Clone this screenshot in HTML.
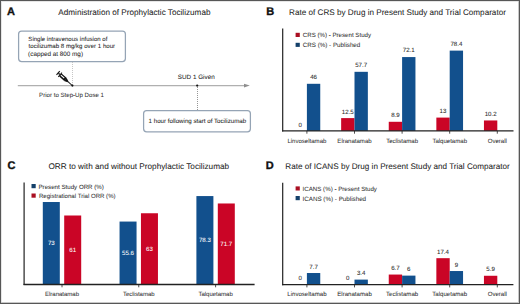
<!DOCTYPE html>
<html><head><meta charset="utf-8"><style>
html,body{margin:0;padding:0;background:#fff;overflow:hidden;}
#fig{position:relative;width:520px;height:304px;overflow:hidden;background:#fff;}
#fig svg{position:absolute;left:0;top:0;}
#frame{position:absolute;left:0;top:0;width:518px;height:302px;border:1px solid #575757;box-shadow:inset -1px -1px 0 #c8c8c8, inset 1px 1px 0 #e6e6e6;}
text{font-family:"Liberation Sans", sans-serif;text-rendering:geometricPrecision;}
text.n{stroke:currentColor;stroke-width:0.05px;}
</style></head><body>
<div id="fig">
<svg width="520" height="304" viewBox="0 0 520 304">
<text x="6.93" y="15.00" font-size="11.000" fill="#111" color="#111" text-anchor="start" font-weight="bold" stroke="#111" stroke-width="0.35">A</text>
<text x="266.14" y="15.00" font-size="11.000" fill="#111" color="#111" text-anchor="start" font-weight="bold" stroke="#111" stroke-width="0.35">B</text>
<text x="7.56" y="168.60" font-size="11.000" fill="#111" color="#111" text-anchor="start" font-weight="bold" stroke="#111" stroke-width="0.35">C</text>
<text x="265.69" y="168.70" font-size="11.000" fill="#111" color="#111" text-anchor="start" font-weight="bold" stroke="#111" stroke-width="0.35">D</text>
<text class="n" x="58.30" y="15.00" font-size="8.171" fill="#262626" color="#262626" text-anchor="start" font-weight="normal">Administration of Prophylactic Tocilizumab</text>
<text class="n" x="289.10" y="14.90" font-size="8.147" fill="#262626" color="#262626" text-anchor="start" font-weight="normal">Rate of CRS by Drug in Present Study and Trial Comparator</text>
<text class="n" x="48.42" y="169.00" font-size="8.236" fill="#262626" color="#262626" text-anchor="start" font-weight="normal">ORR to with and without Prophylactic Tocilizumab</text>
<text class="n" x="285.35" y="169.00" font-size="8.140" fill="#262626" color="#262626" text-anchor="start" font-weight="normal">Rate of ICANS by Drug in Present Study and Trial Comparator</text>
<text class="n" x="28.36" y="40.65" font-size="6.065" fill="#262626" color="#262626" text-anchor="start" font-weight="normal">Single intravenous infusion of</text>
<text class="n" x="28.54" y="48.15" font-size="6.127" fill="#262626" color="#262626" text-anchor="start" font-weight="normal">tocilizumab 8 mg/kg over 1 hour</text>
<text class="n" x="28.12" y="55.90" font-size="6.333" fill="#262626" color="#262626" text-anchor="start" font-weight="normal">(capped at 800 mg)</text>
<text class="n" x="148.57" y="123.20" font-size="6.181" fill="#262626" color="#262626" text-anchor="start" font-weight="normal">1 hour following start of Tocilizumab</text>
<text class="n" x="39.11" y="96.80" font-size="6.116" fill="#333" color="#333" text-anchor="start" font-weight="normal">Prior to Step-Up Dose 1</text>
<text class="n" x="177.85" y="79.20" font-size="6.325" fill="#262626" color="#262626" text-anchor="start" font-weight="normal">SUD 1 Given</text>
<text class="n" x="302.79" y="37.30" font-size="6.159" fill="#333" color="#333" text-anchor="start" font-weight="normal">CRS (%) - Present Study</text>
<text class="n" x="302.79" y="47.30" font-size="6.240" fill="#333" color="#333" text-anchor="start" font-weight="normal">CRS (%) - Published</text>
<text class="n" x="38.51" y="188.70" font-size="6.178" fill="#333" color="#333" text-anchor="start" font-weight="normal">Present Study ORR (%)</text>
<text class="n" x="38.91" y="198.10" font-size="6.096" fill="#333" color="#333" text-anchor="start" font-weight="normal">Registrational Trial ORR (%)</text>
<text class="n" x="302.54" y="190.85" font-size="6.183" fill="#333" color="#333" text-anchor="start" font-weight="normal">ICANS (%) - Present Study</text>
<text class="n" x="302.54" y="200.60" font-size="6.265" fill="#333" color="#333" text-anchor="start" font-weight="normal">ICANS (%) - Published</text>
<rect x="18.6" y="31.1" width="106.8" height="30.4" rx="3" fill="none" stroke="#95a4b5" stroke-width="1.25"/>
<rect x="143.6" y="110.6" width="106.8" height="21.2" rx="3" fill="none" stroke="#95a4b5" stroke-width="1.25"/>
<line x1="17.80" y1="85.60" x2="245.00" y2="85.60" stroke="#b0b0b0" stroke-width="1.3"/>
<path d="M244 83.7 L249.8 85.6 L244 87.5 Z" fill="#8e8e8e"/>
<line x1="72.50" y1="62.00" x2="72.50" y2="85.00" stroke="#b8b8b8" stroke-width="0.8" stroke-dasharray="1 1"/>
<line x1="197.50" y1="87.00" x2="197.50" y2="110.00" stroke="#8a8a8a" stroke-width="0.9" stroke-dasharray="1 1"/>
<circle cx="72.4" cy="85.6" r="1.1" fill="#111"/>
<circle cx="197.2" cy="85.6" r="1.1" fill="#111"/>
<g transform="translate(72.2 85.5) rotate(221.6) scale(0.95 1.15)" fill="#111"><line x1="0" y1="0" x2="6.4" y2="0" stroke="#111" stroke-width="0.85"/><path d="M6 -0.6 L9.6 -1.7 L9.6 1.7 L6 0.6 Z"/><rect x="9.4" y="-1.7" width="7.4" height="3.4" rx="0.4"/><rect x="11.4" y="-0.3" width="4.8" height="0.95" fill="#fff"/><rect x="16.6" y="-2.5" width="0.9" height="5"/><rect x="17.4" y="-0.55" width="2" height="1.1"/><rect x="19.2" y="-2.1" width="1.2" height="4.2"/></g>
<rect x="306.90" y="83.80" width="13.35" height="47.10" fill="#12508d"/>
<rect x="341.15" y="118.10" width="13.35" height="12.80" fill="#ca0526"/>
<rect x="354.50" y="71.82" width="13.35" height="59.08" fill="#12508d"/>
<rect x="388.75" y="121.79" width="13.35" height="9.11" fill="#ca0526"/>
<rect x="402.10" y="57.07" width="13.35" height="73.83" fill="#12508d"/>
<rect x="436.35" y="117.59" width="13.35" height="13.31" fill="#ca0526"/>
<rect x="449.70" y="50.62" width="13.35" height="80.28" fill="#12508d"/>
<rect x="483.95" y="120.46" width="13.35" height="10.44" fill="#ca0526"/>
<line x1="282.70" y1="28.50" x2="282.70" y2="131.50" stroke="#222" stroke-width="1.2"/>
<line x1="282.10" y1="130.90" x2="513.50" y2="130.90" stroke="#222" stroke-width="1.3"/>
<line x1="306.90" y1="130.90" x2="306.90" y2="133.70" stroke="#222" stroke-width="0.8"/>
<line x1="354.50" y1="130.90" x2="354.50" y2="133.70" stroke="#222" stroke-width="0.8"/>
<line x1="402.10" y1="130.90" x2="402.10" y2="133.70" stroke="#222" stroke-width="0.8"/>
<line x1="449.70" y1="130.90" x2="449.70" y2="133.70" stroke="#222" stroke-width="0.8"/>
<line x1="497.30" y1="130.90" x2="497.30" y2="133.70" stroke="#222" stroke-width="0.8"/>
<text class="n" x="300.22" y="126.90" font-size="6.150" fill="#262626" color="#262626" text-anchor="middle" font-weight="normal">0</text>
<text class="n" x="313.57" y="79.20" font-size="6.150" fill="#262626" color="#262626" text-anchor="middle" font-weight="normal">46</text>
<text class="n" x="306.90" y="142.55" font-size="6.050" fill="#333" color="#333" text-anchor="middle" font-weight="normal">Linvoseltamab</text>
<text class="n" x="347.82" y="113.50" font-size="6.150" fill="#262626" color="#262626" text-anchor="middle" font-weight="normal">12.5</text>
<text class="n" x="361.18" y="67.22" font-size="6.150" fill="#262626" color="#262626" text-anchor="middle" font-weight="normal">57.7</text>
<text class="n" x="354.50" y="142.55" font-size="6.050" fill="#333" color="#333" text-anchor="middle" font-weight="normal">Elranatamab</text>
<text class="n" x="395.42" y="117.19" font-size="6.150" fill="#262626" color="#262626" text-anchor="middle" font-weight="normal">8.9</text>
<text class="n" x="408.77" y="52.47" font-size="6.150" fill="#262626" color="#262626" text-anchor="middle" font-weight="normal">72.1</text>
<text class="n" x="402.10" y="142.55" font-size="6.050" fill="#333" color="#333" text-anchor="middle" font-weight="normal">Teclistamab</text>
<text class="n" x="443.02" y="112.99" font-size="6.150" fill="#262626" color="#262626" text-anchor="middle" font-weight="normal">13</text>
<text class="n" x="456.38" y="46.02" font-size="6.150" fill="#262626" color="#262626" text-anchor="middle" font-weight="normal">78.4</text>
<text class="n" x="449.70" y="142.55" font-size="6.050" fill="#333" color="#333" text-anchor="middle" font-weight="normal">Talquetamab</text>
<text class="n" x="490.62" y="115.86" font-size="6.150" fill="#262626" color="#262626" text-anchor="middle" font-weight="normal">10.2</text>
<text class="n" x="497.30" y="142.55" font-size="6.050" fill="#333" color="#333" text-anchor="middle" font-weight="normal">Overall</text>
<rect x="295.60" y="32.80" width="4.20" height="4.20" fill="#aa0f22"/>
<rect x="295.60" y="42.80" width="4.20" height="4.10" fill="#14406a"/>
<rect x="42.80" y="202.02" width="17.00" height="81.98" fill="#12508d"/>
<rect x="64.20" y="215.50" width="17.00" height="68.50" fill="#ca0526"/>
<text class="n" x="51.30" y="245.31" font-size="6.150" fill="#fff" color="#fff" text-anchor="middle" font-weight="normal">73</text>
<text class="n" x="72.70" y="252.05" font-size="6.150" fill="#fff" color="#fff" text-anchor="middle" font-weight="normal">61</text>
<text class="n" x="62.00" y="296.10" font-size="6.000" fill="#333" color="#333" text-anchor="middle" font-weight="normal">Elranatamab</text>
<rect x="119.55" y="221.56" width="17.00" height="62.44" fill="#12508d"/>
<rect x="140.95" y="213.25" width="17.00" height="70.75" fill="#ca0526"/>
<text class="n" x="128.05" y="255.08" font-size="6.150" fill="#fff" color="#fff" text-anchor="middle" font-weight="normal">55.6</text>
<text class="n" x="149.45" y="250.93" font-size="6.150" fill="#fff" color="#fff" text-anchor="middle" font-weight="normal">63</text>
<text class="n" x="138.75" y="296.10" font-size="6.000" fill="#333" color="#333" text-anchor="middle" font-weight="normal">Teclistamab</text>
<rect x="196.40" y="196.07" width="17.00" height="87.93" fill="#12508d"/>
<rect x="217.80" y="203.48" width="17.00" height="80.52" fill="#ca0526"/>
<text class="n" x="204.90" y="242.33" font-size="6.150" fill="#fff" color="#fff" text-anchor="middle" font-weight="normal">78.3</text>
<text class="n" x="226.30" y="246.04" font-size="6.150" fill="#fff" color="#fff" text-anchor="middle" font-weight="normal">71.7</text>
<text class="n" x="215.60" y="296.10" font-size="6.000" fill="#333" color="#333" text-anchor="middle" font-weight="normal">Talquetamab</text>
<line x1="24.10" y1="182.40" x2="24.10" y2="285.10" stroke="#222" stroke-width="1.2"/>
<line x1="23.50" y1="284.50" x2="254.60" y2="284.50" stroke="#222" stroke-width="1.3"/>
<line x1="62.00" y1="284.50" x2="62.00" y2="287.30" stroke="#222" stroke-width="0.8"/>
<line x1="138.75" y1="284.50" x2="138.75" y2="287.30" stroke="#222" stroke-width="0.8"/>
<line x1="215.60" y1="284.50" x2="215.60" y2="287.30" stroke="#222" stroke-width="0.8"/>
<rect x="31.50" y="184.00" width="4.20" height="4.20" fill="#14406a"/>
<rect x="31.50" y="193.50" width="4.20" height="4.20" fill="#aa0f22"/>
<rect x="306.90" y="273.02" width="13.35" height="11.78" fill="#12508d"/>
<rect x="354.50" y="279.60" width="13.35" height="5.20" fill="#12508d"/>
<rect x="388.75" y="274.55" width="13.35" height="10.25" fill="#ca0526"/>
<rect x="402.10" y="275.62" width="13.35" height="9.18" fill="#12508d"/>
<rect x="436.35" y="258.18" width="13.35" height="26.62" fill="#ca0526"/>
<rect x="449.70" y="271.03" width="13.35" height="13.77" fill="#12508d"/>
<rect x="483.95" y="275.77" width="13.35" height="9.03" fill="#ca0526"/>
<line x1="282.70" y1="182.70" x2="282.70" y2="285.20" stroke="#222" stroke-width="1.2"/>
<line x1="282.10" y1="284.60" x2="513.40" y2="284.60" stroke="#222" stroke-width="1.3"/>
<line x1="306.90" y1="284.60" x2="306.90" y2="287.40" stroke="#222" stroke-width="0.8"/>
<line x1="354.50" y1="284.60" x2="354.50" y2="287.40" stroke="#222" stroke-width="0.8"/>
<line x1="402.10" y1="284.60" x2="402.10" y2="287.40" stroke="#222" stroke-width="0.8"/>
<line x1="449.70" y1="284.60" x2="449.70" y2="287.40" stroke="#222" stroke-width="0.8"/>
<line x1="497.30" y1="284.60" x2="497.30" y2="287.40" stroke="#222" stroke-width="0.8"/>
<text class="n" x="300.22" y="279.70" font-size="6.150" fill="#262626" color="#262626" text-anchor="middle" font-weight="normal">0</text>
<text class="n" x="313.57" y="268.52" font-size="6.150" fill="#262626" color="#262626" text-anchor="middle" font-weight="normal">7.7</text>
<text class="n" x="306.90" y="296.20" font-size="6.100" fill="#333" color="#333" text-anchor="middle" font-weight="normal">Linvoseltamab</text>
<text class="n" x="347.82" y="279.70" font-size="6.150" fill="#262626" color="#262626" text-anchor="middle" font-weight="normal">0</text>
<text class="n" x="361.18" y="275.10" font-size="6.150" fill="#262626" color="#262626" text-anchor="middle" font-weight="normal">3.4</text>
<text class="n" x="354.50" y="296.20" font-size="6.100" fill="#333" color="#333" text-anchor="middle" font-weight="normal">Elranatamab</text>
<text class="n" x="395.42" y="270.05" font-size="6.150" fill="#262626" color="#262626" text-anchor="middle" font-weight="normal">6.7</text>
<text class="n" x="408.77" y="271.12" font-size="6.150" fill="#262626" color="#262626" text-anchor="middle" font-weight="normal">6</text>
<text class="n" x="402.10" y="296.20" font-size="6.100" fill="#333" color="#333" text-anchor="middle" font-weight="normal">Teclistamab</text>
<text class="n" x="443.02" y="253.68" font-size="6.150" fill="#262626" color="#262626" text-anchor="middle" font-weight="normal">17.4</text>
<text class="n" x="456.38" y="266.53" font-size="6.150" fill="#262626" color="#262626" text-anchor="middle" font-weight="normal">9</text>
<text class="n" x="449.70" y="296.20" font-size="6.100" fill="#333" color="#333" text-anchor="middle" font-weight="normal">Talquetamab</text>
<text class="n" x="490.62" y="271.27" font-size="6.150" fill="#262626" color="#262626" text-anchor="middle" font-weight="normal">5.9</text>
<text class="n" x="497.30" y="296.20" font-size="6.100" fill="#333" color="#333" text-anchor="middle" font-weight="normal">Overall</text>
<rect x="295.60" y="186.40" width="4.20" height="4.10" fill="#aa0f22"/>
<rect x="295.60" y="196.00" width="4.20" height="4.20" fill="#14406a"/>
</svg>
<div id="frame"></div>
</div>
</body></html>
